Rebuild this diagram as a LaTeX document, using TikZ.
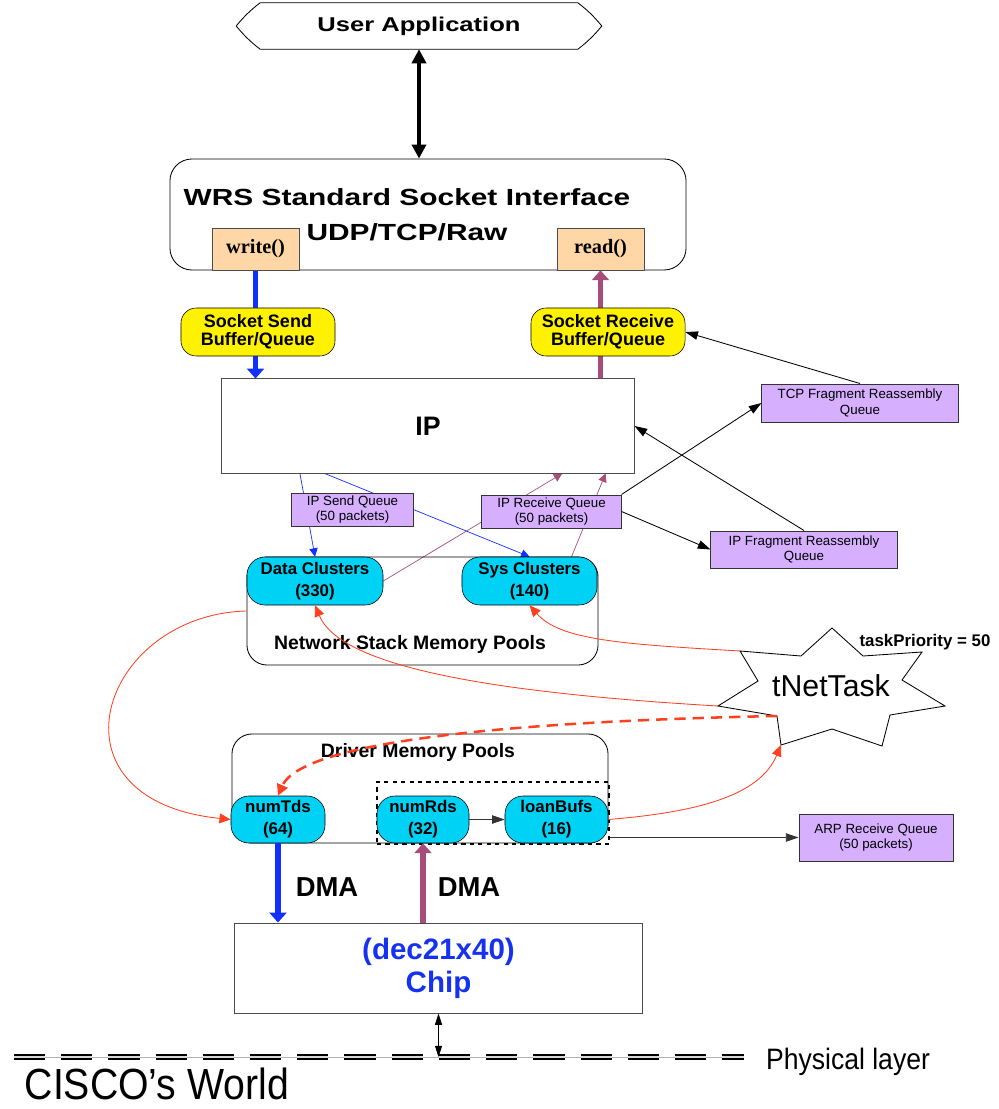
\documentclass[tikz,border=0pt]{standalone}
\usepackage{fontspec}
\setmainfont{Liberation Sans}
\newfontfamily\widesf{Liberation Sans}[FakeStretch=1.28]
\newfontfamily\narrowsf{Liberation Sans}[FakeStretch=0.9]
\newfontfamily\codefont{Liberation Serif}
\usepackage{tikz}
\usepackage{xcolor}
\usetikzlibrary{arrows.meta,positioning,backgrounds,calc}

\definecolor{sendblue}{RGB}{16,48,255}
\definecolor{rcvmag}{RGB}{166,77,121}
\definecolor{taskred}{RGB}{255,64,32}
\definecolor{clcyan}{RGB}{0,210,245}
\definecolor{lavender}{RGB}{214,176,255}
\definecolor{peach}{RGB}{255,214,165}
\definecolor{chipblue}{RGB}{20,50,240}

\tikzset{
  qbox/.style={draw=black!80,fill=lavender,line width=0.7pt,align=center,inner sep=0pt,font=\fontsize{9.5}{11}\selectfont},
  pool/.style={draw,rounded corners=0.5cm,line width=0.6pt},
  cluster/.style={draw,rounded corners=0.45cm,fill=clcyan,align=center,inner sep=0pt,font=\bfseries\fontsize{12}{15.5}\selectfont},
  bufshape/.style={draw,rounded corners=0.38cm,fill=yellow,align=center,inner sep=0pt,font=\bfseries\fontsize{12.8}{13}\selectfont,minimum width=3.85cm,minimum height=1.2cm},
  fnbox/.style={draw=black!70,fill=peach,inner sep=0pt,minimum width=2.175cm,minimum height=1.05cm,font=\codefont\bfseries\fontsize{14.5}{16}\selectfont},
  blockarrow/.style={line width=4pt,-{Triangle[length=7pt,width=12pt]}},
  thinarrow/.style={line width=0.6pt,-{Triangle[length=9pt,width=6pt]}},
  linkarrow/.style={line width=0.5pt,-{Triangle[length=6pt,width=6pt]}},
  redline/.style={taskred,line width=0.6pt,-{Triangle[length=8pt,width=7pt]}},
  reddash/.style={taskred,line width=1.8pt,dash pattern=on 8pt off 5pt,-{Triangle[length=8pt,width=8pt]}}
}

\begin{document}
\begin{tikzpicture}[x=0.025cm,y=-0.025cm]
\useasboundingbox (0,0) rectangle (998,1109);

\node[minimum width=9.125cm,minimum height=1.15cm,inner sep=0pt,font=\widesf\bfseries\fontsize{14.2}{17}\selectfont] (app) at (419,26) {User Application};
\draw[line width=0.6pt] (app.west) to[bend left=6] ([xshift=0.6cm]app.north west) -- ([xshift=-0.6cm]app.north east) to[bend left=6] (app.east) to[bend left=6] ([xshift=-0.6cm]app.south east) -- ([xshift=0.6cm]app.south west) to[bend left=6] (app.west);

\node[draw,rounded corners=0.55cm,line width=0.6pt,minimum width=12.9cm,minimum height=2.775cm] (sock) at (428,214.5) {};
\node[align=center,font=\widesf\bfseries\fontsize{16.6}{25}\selectfont] (socktxt) at (407,214.5) {WRS Standard Socket Interface\\UDP/TCP/Raw};
\node[fnbox] (wr) at (255.5,249) {write()};
\node[fnbox] (rd) at (600.5,249) {read()};

\node[bufshape] (ssend) at (258,332) {Socket Send\\Buffer/Queue};
\node[bufshape] (srecv) at (608,332) {Socket Receive\\Buffer/Queue};

\node[draw=black!70,line width=0.7pt,minimum width=10.3cm,minimum height=2.35cm,font=\bfseries\fontsize{19}{20}\selectfont] (ip) at (428,426) {IP};

\node[qbox,minimum width=4.9cm,minimum height=0.95cm] (tcpq) at (860,403) {TCP Fragment Reassembly\\Queue};
\node[qbox,minimum width=4.65cm,minimum height=0.925cm] (ipfq) at (804,549.5) {IP Fragment Reassembly\\Queue};
\node[qbox,minimum width=3.025cm,minimum height=0.825cm] (ipsq) at (352.5,509.5) {IP Send Queue\\(50 packets)};
\node[qbox,minimum width=3.475cm,minimum height=0.825cm] (iprq) at (551.5,511.5) {IP Receive Queue\\(50 packets)};

\node[pool,minimum width=8.775cm,minimum height=2.7cm] (nspool) at (422.5,611) {};
\node[font=\bfseries\fontsize{13.8}{16}\selectfont] (nslbl) at (410,644) {Network Stack Memory Pools};
\node[cluster,minimum width=3.4cm,minimum height=1.2cm] (dcl) at (315,581) {Data Clusters\\(330)};
\node[cluster,minimum width=3.375cm,minimum height=1.2cm] (scl) at (529.5,581) {Sys Clusters\\(140)};

\node[pool,minimum width=9.4cm,minimum height=2.725cm] (drvpool) at (420,788.5) {};
\node[font=\bfseries\fontsize{13.8}{16}\selectfont] (drvlbl) at (418,752) {Driver Memory Pools};
\node[cluster,minimum width=2.35cm,minimum height=1.175cm] (numtds) at (278,819.5) {numTds\\(64)};
\node[draw,dashed,line width=1.2pt,minimum width=5.8cm,minimum height=1.55cm] (rxgrp) at (493,813) {};
\node[cluster,minimum width=2.3cm,minimum height=1.175cm] (numrds) at (423,819.5) {numRds\\(32)};
\node[cluster,minimum width=2.575cm,minimum height=1.175cm] (loanb) at (556.5,819.5) {loanBufs\\(16)};

\node[qbox,minimum width=3.85cm,minimum height=1.175cm] (arpq) at (876,837.5) {ARP Receive Queue\\(50 packets)};

\node[draw=black!70,line width=0.7pt,minimum width=10.175cm,minimum height=2.25cm,align=center,text=chipblue,font=\bfseries\fontsize{21}{23.5}\selectfont] (chip) at (438.5,968) {(dec21x40)\\Chip};
\node[font=\bfseries\fontsize{19.5}{20}\selectfont] (dma1) at (327,887) {DMA};
\node[font=\bfseries\fontsize{19.5}{20}\selectfont] (dma2) at (469,887) {DMA};

% tNetTask star
\foreach \px/\py [count=\k] in {832/628,863/656,922/652,902/680,945/706,890/715,882/746,832/729,781/745,777/716,718/706,758/681,740/651,801/656}
  \coordinate (st\k) at (\px,\py);
\draw[fill=white,line width=0.6pt] (st1) \foreach \k in {2,...,14}{ -- (st\k)} -- cycle;
\node[font=\fontsize{21.5}{22}\selectfont] (tnet) at (831,686) {tNetTask};
\node[font=\bfseries\fontsize{12}{14}\selectfont] (prio) at (925,642) {taskPriority = 50};

\coordinate (physL) at (14,1057);
\coordinate (physR) at (744,1057);
\node[font=\narrowsf\fontsize{21}{24}\selectfont] (phys) at (848,1062) {Physical layer};
\node[font=\narrowsf\fontsize{31}{34}\selectfont] (cisco) at (157,1084) {CISCO’s World};

\begin{scope}[on background layer]
\draw[blockarrow,sendblue] (wr.south) -- (wr.south |- ip.north);
\draw[blockarrow,rcvmag] (ip.north -| rd.south) -- (rd.south);
\draw[linkarrow,sendblue] ($(ip.south west)!0.19!(ip.south east)$) -- (dcl.north);
\draw[linkarrow,sendblue] ($(ip.south west)!0.25!(ip.south east)$) -- (scl.north);
\draw[linkarrow,rcvmag] (dcl.east) -- ($(ip.south west)!0.825!(ip.south east)$);
\draw[linkarrow,rcvmag] ([xshift=1.05cm]scl.north) -- ($(ip.south west)!0.93!(ip.south east)$);
\end{scope}

\draw[line width=2.5pt,{Triangle[length=10pt,width=10pt]}-{Triangle[length=10pt,width=10pt]}] (app.south) -- (sock.north -| app.south);
\draw[thinarrow] (iprq.north east) -- (tcpq.west);
\draw[thinarrow] (iprq.east) -- (ipfq.west);
\draw[thinarrow] (ipfq.north) -- (ip.east);
\draw[thinarrow] (tcpq.north) -- (srecv.east);
\draw[thinarrow,black!80] (numrds.east) -- (loanb.west);
\draw[thinarrow,black!80] (rxgrp.east |- arpq.west) -- (arpq.west);

\draw[blockarrow,sendblue] (numtds.south) -- (numtds.south |- chip.north);
\draw[blockarrow,rcvmag] (numrds.south |- chip.north) -- (numrds.south);

\draw[redline] (st13) .. controls (620,644) and (560,640) .. (scl.south);
\draw[redline] (st11) .. controls (480,692) and (340,665) .. (dcl.south);
\draw[reddash] (st10) .. controls (480,722) and (300,745) .. (numtds.north);
\draw[redline] (loanb.east) .. controls (700,812) and (760,795) .. (st9);
\draw[redline] (nspool.west) .. controls (100,615) and (40,800) .. (numtds.west);

\draw[line width=0.6pt,{Triangle[length=8pt,width=5pt]}-{Triangle[length=8pt,width=5pt]}] (chip.south) -- (chip.south |- physL);
\draw[gray!60,line width=0.5pt] (physL) -- (physR);
\draw[line width=1pt,double=gray!30,double distance=1.8pt,dash pattern=on 0.78cm off 0.4cm] (physL) -- (physR);
\end{tikzpicture}
\end{document}
